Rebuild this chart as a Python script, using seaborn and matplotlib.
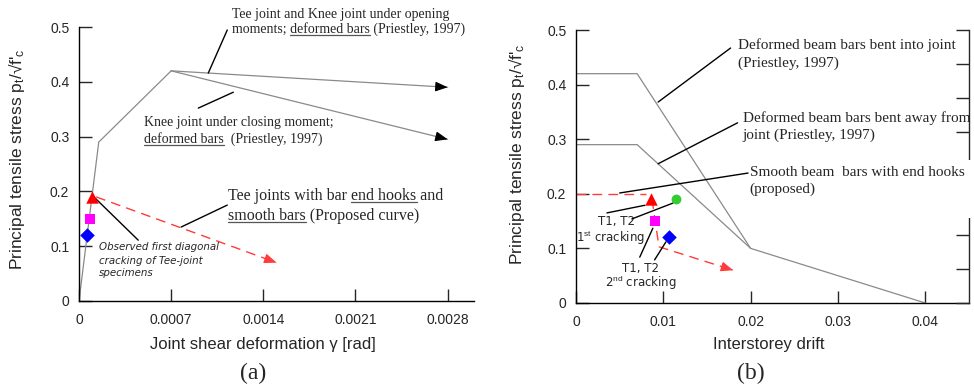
import matplotlib
matplotlib.use("Agg")
import matplotlib.pyplot as plt
import seaborn as sns
import pandas as pd
from matplotlib.lines import Line2D
from matplotlib.patches import Rectangle
from matplotlib.transforms import IdentityTransform, blended_transform_factory

# ---------------- data: panel (a) ----------------
a_prie_x = [0.0, 0.00015, 0.0007]
a_prie_y = [0.0, 0.29, 0.42]
a_open_x = [0.0007, 0.0028]
a_open_y = [0.42, 0.39]
a_close_x = [0.0007, 0.0028]
a_close_y = [0.42, 0.295]
a_prop_x = [0.00013, 0.0015]
a_prop_y = [0.19, 0.07]
a_tri = (0.0001, 0.19)
a_sq = (0.00008, 0.15)
a_dia = (0.00006, 0.12)
a_xticks = [0, 0.0007, 0.0014, 0.0021, 0.0028]
a_xticklabels = ["0", "0.0007", "0.0014", "0.0021", "0.0028"]

# ---------------- data: panel (b) ----------------
b_into_x = [0.0, 0.007, 0.02, 0.04]
b_into_y = [0.42, 0.42, 0.10, 0.0]
b_away_x = [0.0, 0.007, 0.02]
b_away_y = [0.29, 0.29, 0.10]
b_prop1_x = [0.0, 0.008]
b_prop1_y = [0.2, 0.2]
b_prop2_x = [0.0087, 0.0095, 0.018]
b_prop2_y = [0.19, 0.103, 0.06]
b_tri = (0.0086, 0.19)
b_circ = (0.0115, 0.19)
b_sq = (0.009, 0.15)
b_dia = (0.0107, 0.12)
b_xticks = [0, 0.01, 0.02, 0.03, 0.04]
b_xticklabels = ["0", "0.01", "0.02", "0.03", "0.04"]

yticks = [0, 0.1, 0.2, 0.3, 0.4, 0.5]
yticklabels = ["0", "0.1", "0.2", "0.3", "0.4", "0.5"]

sns.set_style("ticks")
plt.rcParams["font.family"] = ["Liberation Sans", "DejaVu Sans"]
plt.rcParams["mathtext.fontset"] = "custom"
plt.rcParams["mathtext.rm"] = "Liberation Sans"
plt.rcParams["mathtext.it"] = "Liberation Sans:italic"

GRAY = "#8a8a8a"
RED = "#ff3b3b"
SERIF = ["Liberation Serif", "DejaVu Serif"]
COMIC = ["DejaVu Sans"]

fig = plt.figure(figsize=(9.74, 3.91), dpi=100)
W, H = 974, 391
ax1 = fig.add_axes([79 / W, 1 - 301 / H, (474 - 79) / W, (301 - 27) / H])
ax2 = fig.add_axes([576 / W, 1 - 303 / H, (969 - 576) / W, (303 - 30) / H])

underlines = []


def txt(ax, x, y, s, under=(), transform=None, **kw):
    kw.setdefault("ha", "left")
    kw.setdefault("va", "baseline")
    if transform is None:
        t = ax.text(x, y, s, **kw)
    else:
        t = ax.text(x, y, s, transform=transform, **kw)
    for u in under:
        underlines.append((t, u))
    return t


def line(ax, xs, ys, color, ls="-", lw=0.9, z=2):
    df = pd.DataFrame({"x": xs, "y": ys})
    sns.lineplot(data=df, x="x", y="y", ax=ax, color=color, linestyle=ls,
                 lw=lw, sort=False, estimator=None, zorder=z)


def head(ax, xs, ys, color):
    x0, y0 = xs[-2], ys[-2]
    x1, y1 = xs[-1], ys[-1]
    xa = x1 - 0.02 * (x1 - x0)
    ya = y1 - 0.02 * (y1 - y0)
    ax.annotate("", xy=(x1, y1), xytext=(xa, ya),
                arrowprops=dict(arrowstyle="-|>,head_length=0.75,head_width=0.3",
                                color=color, lw=0.8, mutation_scale=10,
                                shrinkA=0, shrinkB=0))


def leader(ax, p0, p1, **kw):
    ax.annotate("", xy=p1, xytext=p0,
                arrowprops=dict(arrowstyle="-", color="black", lw=1.0,
                                shrinkA=0, shrinkB=0), **kw)


def pt(ax, p, marker, color, s):
    sns.scatterplot(x=[p[0]], y=[p[1]], ax=ax, marker=marker, color=color,
                    s=s, edgecolor=color, linewidth=0, zorder=5, clip_on=False)


dash = (0, (7, 4.5))

# ---------------- panel (a) ----------------
line(ax1, a_prie_x, a_prie_y, GRAY)
line(ax1, a_open_x, a_open_y, GRAY)
line(ax1, a_close_x, a_close_y, GRAY)
head(ax1, a_open_x, a_open_y, "black")
head(ax1, a_close_x, a_close_y, "black")
line(ax1, a_prop_x, a_prop_y, RED, ls=dash, lw=1.0)
head(ax1, a_prop_x, a_prop_y, RED)
pt(ax1, a_tri, "^", "#ff0000", 80)
pt(ax1, a_sq, "s", "#ff00ff", 45)
pt(ax1, a_dia, "D", "#0000ff", 55)

ax1.set_xlim(0, 0.003)
ax1.set_ylim(0, 0.5)
ax1.set_xticks(a_xticks)
ax1.set_xticklabels(a_xticklabels)
ax1.set_yticks(yticks)
ax1.set_yticklabels(yticklabels)
sns.despine(ax=ax1)

txt(ax1, 0.001164, 0.516, "Tee joint and Knee joint under opening",
    family=SERIF, fontsize=10)
txt(ax1, 0.001164, 0.489, "moments; deformed bars (Priestley, 1997)",
    under=("deformed bars",), family=SERIF, fontsize=10)
leader(ax1, (0.001126, 0.4945), (0.000982, 0.416))

txt(ax1, 0.000495, 0.319, "Knee joint under closing moment;",
    family=SERIF, fontsize=10)
txt(ax1, 0.000495, 0.288, "deformed bars  (Priestley, 1997)",
    under=("deformed bars",), family=SERIF, fontsize=10)
leader(ax1, (0.000906, 0.352), (0.001172, 0.381))

txt(ax1, 0.001134, 0.184, "Tee joints with bar end hooks and",
    under=("end hooks",), family=SERIF, fontsize=11.5)
txt(ax1, 0.001134, 0.148, "smooth bars (Proposed curve)",
    under=("smooth bars",), family=SERIF, fontsize=11.5)
leader(ax1, (0.000776, 0.135), (0.001126, 0.175))

for yy, s in zip([0.093, 0.068, 0.045],
                 ["Observed first diagonal", "cracking of Tee-joint", "specimens"]):
    txt(ax1, 0.000152, yy, s, family=COMIC, style="oblique", fontsize=7.4)
leader(ax1, (0.0001, 0.193), (0.00045, 0.111))

ax1.set_xlabel("Joint shear deformation γ [rad]", fontsize=12)
ax1.set_ylabel(r"Principal tensile stress p$_{\rm t}$/√f'$_{\rm c}$", fontsize=12.5)
ax1.xaxis.set_label_coords(0.466, -0.13)
ax1.yaxis.set_label_coords(-0.132, 0.518)

# ---------------- panel (b) ----------------
line(ax2, b_into_x, b_into_y, GRAY)
line(ax2, b_away_x, b_away_y, GRAY)
line(ax2, b_prop1_x, b_prop1_y, RED, ls=dash, lw=1.0)
line(ax2, b_prop2_x, b_prop2_y, RED, ls=dash, lw=1.0)
head(ax2, b_prop2_x, b_prop2_y, RED)
pt(ax2, b_tri, "^", "#ff0000", 80)
pt(ax2, b_circ, "o", "#33cc33", 50)
pt(ax2, b_sq, "s", "#ff00ff", 45)
pt(ax2, b_dia, "D", "#0000ff", 55)

ax2.set_xlim(0, 0.045)
ax2.set_ylim(0, 0.5)
ax2.set_xticks(b_xticks)
ax2.set_xticklabels(b_xticklabels)
ax2.set_yticks(yticks)
ax2.set_yticklabels(yticklabels)
sns.despine(ax=ax2)

txt(ax2, 0.0185, 0.465, "Deformed beam bars bent into joint", family=SERIF, fontsize=11)
txt(ax2, 0.0185, 0.432, "(Priestley, 1997)", family=SERIF, fontsize=11)
leader(ax2, (0.0177, 0.467), (0.0094, 0.368))

txt(ax2, 0.0191, 0.332, "Deformed beam bars bent away from", family=SERIF, fontsize=11)
txt(ax2, 0.0191, 0.300, "joint (Priestley, 1997)", family=SERIF, fontsize=11)
leader(ax2, (0.0185, 0.330), (0.0094, 0.255))

leader(ax2, (0.0197, 0.238), (0.0050, 0.2015))

for (xc, yb, s) in [(0.0046, 0.143, "T1, T2"),
                    (0.0040, 0.112, r"1$^{\rm st}$ cracking"),
                    (0.0074, 0.057, "T1, T2"),
                    (0.0074, 0.029, r"2$^{\rm nd}$ cracking")]:
    txt(ax2, xc, yb, s, family=COMIC, fontsize=8.5, ha="center")
leader(ax2, (0.00354, 0.165), (0.00789, 0.179))
leader(ax2, (0.0064, 0.154), (0.0111, 0.183))
leader(ax2, (0.0073, 0.084), (0.0088, 0.137))
leader(ax2, (0.0090, 0.079), (0.0103, 0.112))

ax2.set_xlabel("Interstorey drift", fontsize=12)
ax2.set_ylabel(r"Principal tensile stress p$_{\rm t}$/√f'$_{\rm c}$", fontsize=12.5)
ax2.xaxis.set_label_coords(0.491, -0.125)
ax2.yaxis.set_label_coords(-0.125, 0.546)

# partial right axis of panel (b)
ax3 = ax2.twinx()
ax3.set_ylim(0, 8)
ax3.set_yticks(range(9))
ax3.tick_params(axis="y", direction="in", length=9.5, width=1.0,
                labelright=False, right=True)
for sp in ["top", "left", "bottom"]:
    ax3.spines[sp].set_visible(False)
ax3.spines["right"].set_linewidth(1.0)
ax3.add_patch(Rectangle((0.955, 2.5), 0.08, 1.7,
                        transform=blended_transform_factory(ax3.transAxes, ax3.transData),
                        facecolor="white", edgecolor="none", clip_on=False, zorder=10))
txt(ax3, 0.0199, 0.233, "Smooth beam  bars with end hooks", family=SERIF,
    fontsize=11, transform=ax2.transData, zorder=11)
txt(ax3, 0.0199, 0.201, "(proposed)", family=SERIF, fontsize=11,
    transform=ax2.transData, zorder=11)

for ax in (ax1, ax2):
    ax.tick_params(direction="in", length=9, width=1.0, labelsize=10, pad=7)
    ax.tick_params(axis="x", pad=9)
    for sp in ["left", "bottom"]:
        ax.spines[sp].set_linewidth(1.0)
        ax.spines[sp].set_color("black")

fig.text(253 / W, 1 - 373 / H, "(a)", family=SERIF, fontsize=17, ha="center", va="center")
fig.text(751 / W, 1 - 373 / H, "(b)", family=SERIF, fontsize=17, ha="center", va="center")

# underlines
fig.canvas.draw()
r = fig.canvas.get_renderer()
for t, u in underlines:
    s = t.get_text()
    i = s.index(u)
    prop = t.get_fontproperties()
    w_full = r.get_text_width_height_descent(s[:i + len(u)], prop, ismath=False)[0]
    w_u = r.get_text_width_height_descent(u, prop, ismath=False)[0]
    x0p, y0p = t.get_transform().transform(t.get_position())
    yul = y0p - 0.14 * prop.get_size_in_points() * fig.dpi / 72
    fig.add_artist(Line2D([x0p + w_full - w_u, x0p + w_full], [yul, yul],
                          transform=IdentityTransform(), color="#555555", lw=0.9))

fig.savefig("out.png", dpi=100)
